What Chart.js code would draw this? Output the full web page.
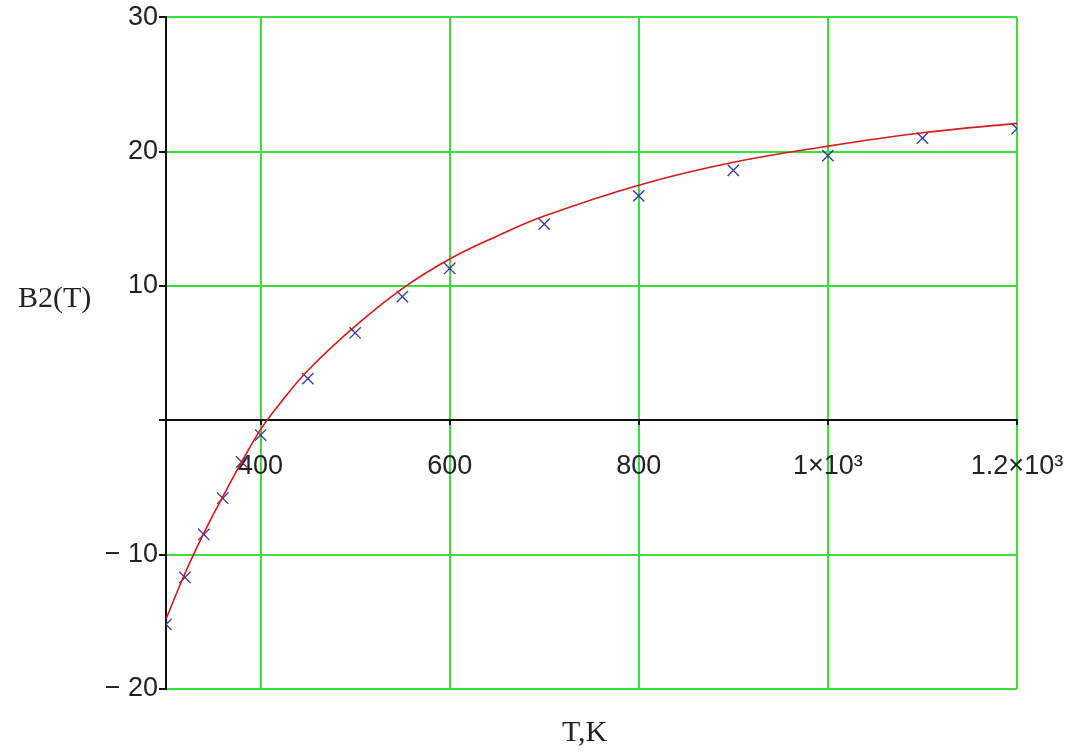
<!DOCTYPE html>
<html>
<head>
<meta charset="utf-8">
<script src="https://cdn.jsdelivr.net/npm/chart.js@4/dist/chart.umd.min.js"></script>
<style>
body{margin:0;background:#fff;}
#wrap{position:relative;width:1079px;height:753px;}
.ttl{position:absolute;font-family:"Liberation Serif",serif;font-size:30px;color:#222;white-space:nowrap;}
</style>
</head>
<body>
<div id="wrap">
<canvas id="chart" width="1079" height="753"></canvas>
<div class="ttl" id="ylab" style="left:18px;top:280px;">B2(T)</div>
<div class="ttl" id="xlab" style="left:562px;top:714px;">T,K</div>
</div>
<script>
// fitted curve
let curveT = [300,320,340,360,380,400,420,450,500,550,600,650,700,800,900,1000,1100,1200];
let curveB = [-14.8,-11.4,-8.4,-5.7,-3.1,-0.7,1.2,3.7,7.0,9.8,12.0,13.7,15.2,17.5,19.2,20.4,21.4,22.1];

// measured points (x markers)
let pointT = [300,320,340,360,380,400,450,500,550,600,700,800,900,1000,1100,1200];
let pointB = [-15.2,-11.7,-8.5,-5.8,-3.1,-1.1,3.1,6.5,9.2,11.3,14.6,16.7,18.6,19.7,21.0,21.7];

let xTicks = [300,400,600,800,1000,1200];
let xLabels = {300:"",400:"400",600:"600",800:"800",1000:"1\u00d710\u00b3",1200:"1.2\u00d710\u00b3"};
let yTicks = [-20,-10,0,10,20,30];
let yLabels = {"-20":"\u2212 20","-10":"\u2212 10","0":"","10":"10","20":"20","30":"30"};

const green = "rgb(60,222,60)";

function toXY(xs, ys){
    let out = [];
    for(let i=0;i<xs.length;i++){
        out.push({x: xs[i], y: ys[i]});
    }
    return out;
}

const ctx = document.getElementById("chart").getContext("2d");
const myChart = new Chart(ctx, {
    type: "scatter",
    data: {
        datasets: [{
            data: toXY(curveT, curveB),
            showLine: true,
            borderColor: "#d81818",
            borderWidth: 1.6,
            pointRadius: 0,
            tension: 0.4,
            fill: false
        },{
            data: toXY(pointT, pointB),
            showLine: false,
            pointStyle: "crossRot",
            pointRadius: 8,
            borderColor: "#3535a8",
            backgroundColor: "#3535a8",
            pointBorderWidth: 1.3
        }]
    },
    options: {
        responsive: false,
        animation: false,
        layout: {padding: {left: 0, top: 16, right: 62, bottom: 64}},
        plugins: {legend: {display: false}, tooltip: {enabled: false}},
        scales: {
            x: {
                type: "linear",
                position: {y: 0},
                min: 300,
                max: 1200,
                afterBuildTicks: function(scale){
                    scale.ticks = xTicks.map(v => ({value: v}));
                },
                afterFit: function(scale){
                    scale.paddingLeft = 0;
                    scale.paddingRight = 0;
                },
                grid: {
                    color: c => (c.tick && c.tick.value === 300) ? "rgba(0,0,0,0)" : green,
                    lineWidth: 2,
                    tickLength: 4,
                    tickColor: "#111"
                },
                border: {color: "#111", width: 2},
                ticks: {
                    color: "#222",
                    padding: 26,
                    maxRotation: 0,
                    autoSkip: false,
                    font: {family: "Liberation Sans", size: 27},
                    callback: v => xLabels[v]
                }
            },
            y: {
                type: "linear",
                position: "left",
                min: -20,
                max: 30,
                afterBuildTicks: function(scale){
                    scale.ticks = yTicks.map(v => ({value: v}));
                },
                afterFit: function(scale){
                    scale.width = 166;
                },
                grid: {
                    color: c => (c.tick && c.tick.value === 0) ? "rgba(0,0,0,0)" : green,
                    lineWidth: 2,
                    tickLength: 7,
                    tickColor: "#111"
                },
                border: {color: "#111", width: 2},
                ticks: {
                    color: "#222",
                    padding: 1,
                    autoSkip: false,
                    font: {family: "Liberation Sans", size: 27},
                    callback: v => yLabels[String(v)]
                }
            }
        }
    }
});
</script>
</body>
</html>
